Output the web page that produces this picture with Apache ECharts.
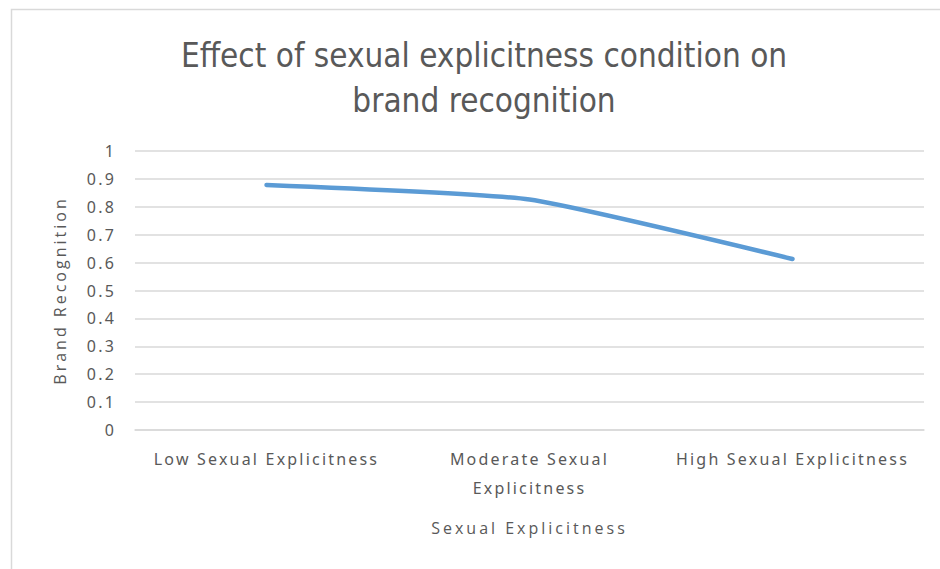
<!DOCTYPE html>
<html>
<head>
<meta charset="utf-8">
<script src="https://cdn.jsdelivr.net/npm/echarts@6/dist/echarts.min.js"></script>
<style>
  html, body { margin: 0; padding: 0; background: #ffffff; }
  #chart { width: 940px; height: 569px; }
  /* wider tracking for axis texts */
  #chart text[style*="Open Sans"], #chart text[font-family*="Open Sans"] { letter-spacing: 3px; }
  #chart text[style*="Noto Sans"], #chart text[font-family*="Noto Sans"] { letter-spacing: 2.2px; }
</style>
</head>
<body>
<div id="chart"></div>
<script>
// Categories and mean brand recognition per condition
const categories = ['Low Sexual Explicitness', 'Moderate Sexual\nExplicitness', 'High Sexual Explicitness'];
const recognition = [0.878, 0.826, 0.613];
const yTicks = { min: 0, max: 1, interval: 0.1 };

const chart = echarts.init(document.getElementById('chart'), null, { renderer: 'svg' });

const labelColor = '#595959';
const nameFont = '"Open Sans", sans-serif';
const tickFont = '"Noto Sans", sans-serif';

chart.setOption({
  backgroundColor: '#ffffff',
  animation: false,
  graphic: [{
    type: 'rect',
    shape: { x: 11.5, y: 9.5, width: 1000, height: 1000 },
    style: { fill: 'none', stroke: '#d9d9d9', lineWidth: 1.5 },
    silent: true
  }],
  title: {
    text: 'Effect of sexual explicitness condition on\nbrand recognition',
    left: 479,
    textAlign: 'center',
    top: 28,
    textStyle: {
      fontFamily: '"Liberation Sans Narrow", "DejaVu Sans Condensed", sans-serif',
      fontSize: 33,
      fontWeight: 'normal',
      color: labelColor,
      lineHeight: 45
    }
  },
  grid: { left: 135, right: 16, top: 151, bottom: 139, containLabel: false },
  xAxis: {
    type: 'category',
    data: categories,
    boundaryGap: true,
    name: 'Sexual Explicitness',
    nameLocation: 'middle',
    nameGap: 90,
    nameTextStyle: { fontFamily: nameFont, fontSize: 16, color: labelColor },
    axisLine: { show: true, lineStyle: { color: '#d9d9d9', width: 1.5 } },
    axisTick: { show: false },
    axisLabel: {
      fontFamily: tickFont, fontSize: 16, color: labelColor,
      margin: 14, lineHeight: 29, interval: 0
    },
    splitLine: { show: false }
  },
  yAxis: {
    type: 'value',
    min: yTicks.min,
    max: yTicks.max,
    interval: yTicks.interval,
    name: 'Brand Recognition',
    nameLocation: 'middle',
    nameGap: 67,
    nameTextStyle: { fontFamily: nameFont, fontSize: 16, color: labelColor },
    axisLine: { show: false },
    axisTick: { show: false },
    axisLabel: {
      fontFamily: tickFont, fontSize: 16, color: labelColor, margin: 19,
      formatter: v => String(Math.round(v * 10) / 10)
    },
    splitLine: { show: true, lineStyle: { color: '#d9d9d9', width: 1.5 } }
  },
  series: [{
    type: 'line',
    data: recognition,
    symbol: 'none',
    smooth: 0.15,
    lineStyle: { color: '#5b9bd5', width: 4.5, cap: 'round', join: 'round' }
  }]
});
</script>
</body>
</html>
